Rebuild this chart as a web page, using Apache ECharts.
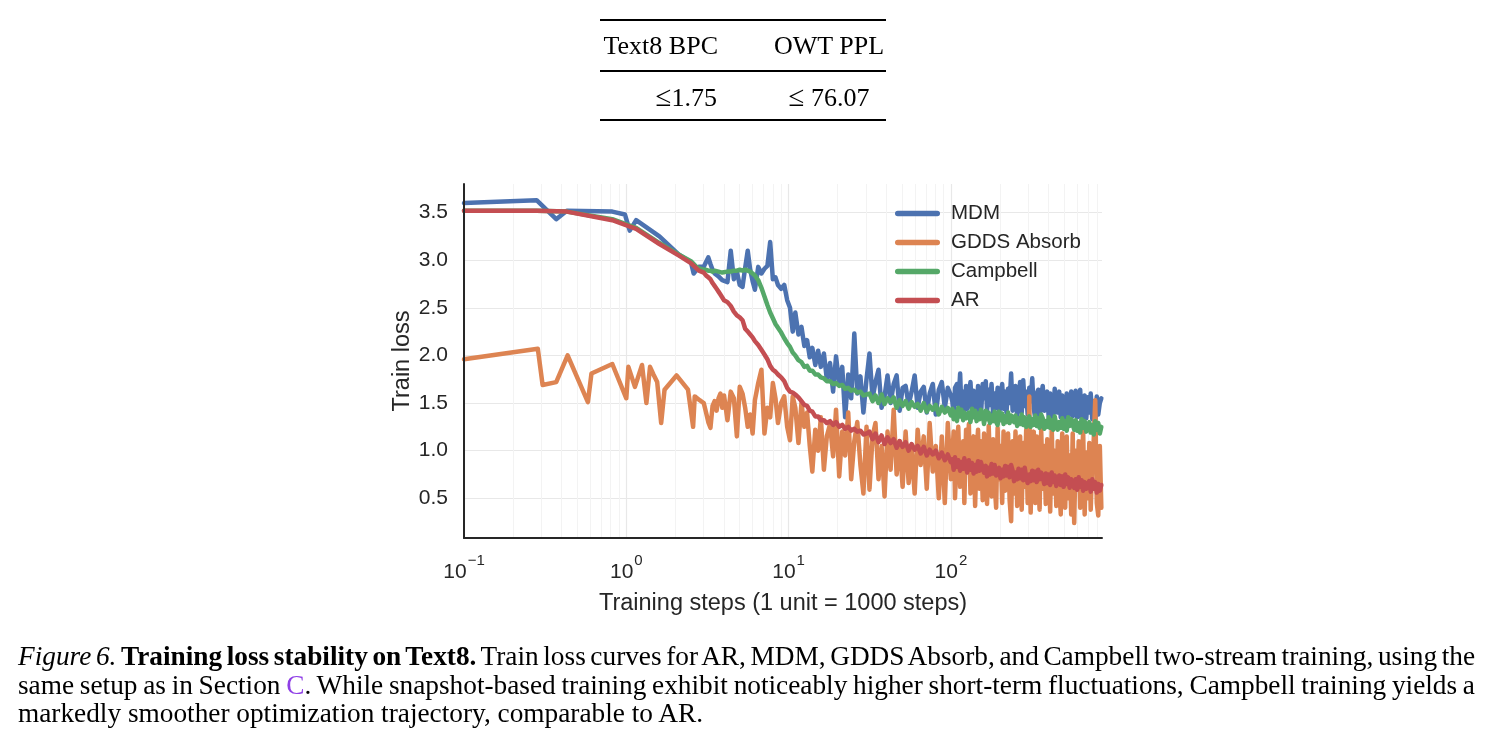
<!DOCTYPE html>
<html>
<head>
<meta charset="utf-8">
<script src="https://cdn.jsdelivr.net/npm/echarts@6/dist/echarts.min.js"></script>
<style>
  body { margin: 0; background: #fff; }
  #page { position: relative; width: 1491px; height: 745px; overflow: hidden; font-family: "Liberation Serif", "Times New Roman", serif; color: #000; }
  #chart { position: absolute; left: 0; top: 0; width: 1491px; height: 745px; }
  .rule { position: absolute; left: 600px; width: 286px; background: #000; }
  .cell { position: absolute; font-size: 26px; line-height: 26px; white-space: nowrap; }
  .le { font-size: 29px; }
  .cap { position: absolute; left: 18px; width: 1457px; font-size: 27.3px; line-height: 28.5px; white-space: nowrap; }
  .just { text-align: justify; text-align-last: justify; word-spacing: -4.5px; }
</style>
</head>
<body>
<div id="page">
  <div id="chart"></div>

  <!-- table above the figure -->
  <div class="rule" style="top:19px;height:2px"></div>
  <div class="cell" style="right:773px;top:33px">Text8 BPC</div>
  <div class="cell" style="left:772px;width:114px;text-align:center;top:33px">OWT PPL</div>
  <div class="rule" style="top:70px;height:1.5px"></div>
  <div class="cell" style="right:774px;top:83px"><span class="le">&le;</span>1.75</div>
  <div class="cell" style="left:772px;width:114px;text-align:center;top:83px"><span class="le">&le;</span> 76.07</div>
  <div class="rule" style="top:119px;height:2px"></div>

  <!-- caption -->
  <div class="cap just" style="top:642px"><i>Figure 6.</i> <b>Training loss stability on Text8.</b> Train loss curves for AR, MDM, GDDS Absorb, and Campbell two-stream training, using the</div>
  <div class="cap just" style="top:670.5px">same setup as in Section <span style="color:#8f3fe6">C</span>. While snapshot-based training exhibit noticeably higher short-term fluctuations, Campbell training yields a</div>
  <div class="cap" style="top:699px">markedly smoother optimization trajectory, comparable to AR.</div>
</div>

<script>
// sparse early part of each curve: [step (x1000), loss]
var mdmHead = [[0.1,3.60],[0.28,3.63],[0.37,3.43],[0.43,3.52],[0.82,3.51],[0.98,3.48],[1.05,3.31],[1.15,3.42],[1.6,3.25],[2.1,3.06],[2.5,2.98],[2.6,2.86],[2.8,2.93]];
var gddsHead = [[0.1,1.96],[0.285,2.07],[0.305,1.69],[0.37,1.72],[0.435,2.00],[0.58,1.51],[0.61,1.81],[0.82,1.91],[1.0,1.55],[1.03,1.88],[1.13,1.67],[1.25,1.90],[1.33,1.50],[1.40,1.88],[1.47,1.80],[1.55,1.72],[1.64,1.29],[1.72,1.64],[2.04,1.79],[2.40,1.64],[2.58,1.25],[2.64,1.57],[2.83,1.53]];
var campHead = [[0.1,3.52],[0.28,3.52],[0.43,3.51],[0.82,3.43],[1.15,3.34],[1.6,3.18],[2.1,3.06],[2.5,2.99],[2.7,2.93],[2.85,2.91]];
var arHead = [[0.1,3.52],[0.28,3.52],[0.43,3.51],[0.82,3.42],[1.15,3.33],[1.6,3.17],[2.1,3.05],[2.5,2.97],[2.8,2.89]];

// dense part: shared steps, one loss list per run
var tailSteps = [3,3.1,3.2,3.3,3.4,3.5,3.6,3.7,3.8,3.9,4,
  4.2,4.4,4.6,4.8,5,5.2,5.4,5.6,5.8,6,6.2,6.5,6.8,7.1,7.4,7.7,8,8.3,8.6,9,9.4,9.8,
  10.2,10.6,11,11.5,12,12.5,13,13.5,14,14.6,15.2,15.8,16.5,17.2,18,18.8,19.6,20.5,21.4,22.3,23.3,24.3,25.4,26.5,27.7,28.9,30.2,
  31.5,32.9,34.3,35.8,37.4,39,40.7,42.5,44.4,46.3,48.3,50.4,52.6,54.9,57.3,59.8,62.4,65.1,68,71,74,77.3,80.7,84.2,87.9,91.7,95.7,99.9,
  102,104,106,109,111,114,116,119,121,124,
  126,129,132,135,138,141,144,147,150,153,
  157,160,164,167,171,174,178,182,186,190,
  194,198,202,207,211,216,220,225,230,235,
  240,245,250,256,261,267,273,279,285,291,
  297,304,310,317,324,331,338,345,352,360,
  368,376,384,392,400,409,418,427,436,446,
  455,465,475,485,495,506,517,528,539,551,
  563,575,587,600,613,626,639,653,667,682,
  697,712,727,743,759,775,792,809,827,845];

var mdmTail = [2.93,2.98,3.03,2.96,2.90,2.86,2.88,2.83,2.82,2.79,2.81,
  2.77,3.10,2.80,2.88,2.74,2.72,2.92,3.10,2.90,2.78,2.69,2.93,2.86,2.91,2.94,3.19,2.80,2.82,2.74,2.70,2.74,2.58,
  2.50,2.25,2.45,2.22,2.30,2.10,2.16,1.98,2.08,1.90,2.05,1.88,2.02,1.75,1.92,1.62,1.99,1.70,1.88,1.35,1.80,1.55,2.23,1.60,1.78,1.40,1.75,
  2.02,1.55,1.72,1.85,1.45,1.57,1.79,1.50,1.70,1.79,1.42,1.66,1.68,1.48,1.62,1.79,1.45,1.62,1.67,1.40,1.60,1.70,1.38,1.64,1.72,1.45,1.66,1.58,
  1.52,1.38,1.66,1.70,1.48,1.81,1.45,1.62,1.40,1.68,
  1.44,1.58,1.72,1.40,1.63,1.50,1.35,1.68,1.47,1.36,
  1.70,1.55,1.73,1.42,1.64,1.48,1.70,1.38,1.60,1.45,
  1.66,1.35,1.57,1.70,1.44,1.62,1.40,1.65,1.50,1.81,
  1.42,1.60,1.68,1.36,1.55,1.72,1.40,1.74,1.47,1.62,
  1.38,1.66,1.52,1.76,1.44,1.34,1.60,1.64,1.30,1.58,
  1.68,1.42,1.56,1.62,1.36,1.60,1.45,1.33,1.65,1.50,
  1.40,1.62,1.35,1.58,1.48,1.33,1.60,1.44,1.38,1.62,
  1.36,1.55,1.63,1.35,1.52,1.64,1.32,1.47,1.58,1.34,
  1.56,1.40,1.60,1.33,1.52,1.30,1.57,1.38,1.50,1.55];
var gddsTail = [1.50,1.40,1.30,1.24,1.47,1.52,1.42,1.55,1.60,1.45,1.58,
  1.32,1.62,1.55,1.15,1.67,1.60,1.45,1.25,1.38,1.18,1.53,1.71,1.85,1.18,1.45,1.35,1.71,1.55,1.29,1.50,1.57,1.25,
  1.11,1.57,1.45,1.08,1.50,1.25,1.40,1.05,0.78,1.22,1.00,1.35,0.80,1.15,1.28,0.94,1.43,0.73,1.20,0.95,1.40,0.70,1.10,1.30,0.85,0.55,1.25,
  0.59,1.15,1.29,0.70,1.05,0.52,1.20,0.80,1.43,0.75,1.10,0.62,1.20,0.66,1.00,0.55,1.22,0.85,1.15,0.60,1.29,0.78,1.05,0.50,1.15,0.45,1.29,0.70,
  0.70,1.20,0.50,1.05,1.25,0.62,0.90,1.10,0.45,1.22,
  0.80,1.28,0.55,0.95,1.15,0.42,1.00,1.22,0.60,1.10,
  0.48,1.18,0.75,0.44,1.26,0.85,0.52,1.12,0.65,0.40,
  1.24,0.70,1.05,0.45,1.20,0.58,0.95,1.18,0.48,0.26,
  1.10,0.55,1.20,0.42,0.90,1.15,0.38,1.08,0.62,1.22,
  0.45,1.57,0.35,1.00,1.20,0.45,1.15,0.70,0.38,1.22,
  0.60,1.05,0.44,1.12,0.85,0.36,1.24,0.55,1.00,0.42,
  1.10,0.65,0.33,1.18,0.80,0.40,1.15,0.50,0.95,0.33,
  1.18,0.24,1.00,0.60,1.10,0.40,0.85,1.20,0.33,0.98,
  0.50,1.08,0.38,0.90,1.12,1.53,0.45,0.32,1.05,0.40];
var campTail = [2.90,2.90,2.89,2.89,2.88,2.89,2.88,2.88,2.88,2.87,2.88,
  2.88,2.88,2.89,2.89,2.90,2.89,2.90,2.89,2.88,2.86,2.84,2.79,2.71,2.62,2.53,2.45,2.39,2.33,2.29,2.24,2.18,2.13,
  2.09,2.03,2.00,1.95,1.93,1.88,1.89,1.84,1.84,1.80,1.80,1.77,1.76,1.73,1.73,1.70,1.71,1.68,1.69,1.65,1.66,1.63,1.64,1.61,1.62,1.58,1.59,
  1.60,1.52,1.58,1.50,1.59,1.49,1.55,1.51,1.56,1.45,1.53,1.47,1.52,1.44,1.51,1.46,1.49,1.42,1.50,1.41,1.47,1.43,1.48,1.38,1.46,1.40,1.45,1.37,
  1.44,1.33,1.41,1.31,1.45,1.36,1.43,1.32,1.40,1.34,
  1.32,1.40,1.30,1.44,1.35,1.42,1.31,1.39,1.33,1.43,
  1.38,1.28,1.42,1.33,1.40,1.29,1.37,1.31,1.41,1.30,
  1.27,1.41,1.32,1.39,1.28,1.36,1.30,1.40,1.29,1.37,
  1.39,1.30,1.37,1.26,1.34,1.28,1.38,1.27,1.35,1.25,
  1.29,1.36,1.25,1.33,1.27,1.37,1.26,1.34,1.24,1.38,
  1.34,1.23,1.31,1.25,1.35,1.24,1.32,1.22,1.36,1.27,
  1.22,1.30,1.24,1.34,1.23,1.31,1.21,1.35,1.26,1.33,
  1.28,1.22,1.32,1.21,1.29,1.19,1.33,1.24,1.31,1.20,
  1.20,1.30,1.19,1.27,1.17,1.31,1.22,1.29,1.18,1.25];
var arTail = [2.87,2.84,2.82,2.80,2.76,2.73,2.70,2.67,2.64,2.62,2.58,
  2.56,2.52,2.46,2.42,2.40,2.37,2.28,2.25,2.22,2.19,2.15,2.11,2.06,2.01,1.96,1.89,1.85,1.83,1.80,1.77,1.73,1.66,
  1.62,1.61,1.59,1.56,1.52,1.48,1.47,1.42,1.41,1.36,1.36,1.32,1.32,1.29,1.31,1.27,1.30,1.25,1.27,1.23,1.25,1.21,1.23,1.20,1.21,1.17,1.18,
  1.20,1.12,1.18,1.09,1.16,1.07,1.14,1.08,1.12,1.03,1.10,1.04,1.09,1.00,1.07,1.01,1.05,0.97,1.04,0.95,1.01,0.96,1.00,0.92,0.98,0.90,0.96,0.88,
  0.91,0.80,0.93,0.83,0.90,0.79,0.88,0.81,0.92,0.82,
  0.77,0.90,0.80,0.87,0.76,0.85,0.78,0.89,0.79,0.88,
  0.87,0.77,0.84,0.73,0.82,0.75,0.86,0.76,0.85,0.74,
  0.75,0.82,0.71,0.80,0.73,0.84,0.74,0.83,0.72,0.85,
  0.79,0.68,0.77,0.70,0.81,0.71,0.80,0.69,0.82,0.72,
  0.66,0.75,0.68,0.79,0.69,0.78,0.67,0.80,0.70,0.77,
  0.72,0.65,0.76,0.66,0.75,0.64,0.77,0.67,0.74,0.63,
  0.63,0.74,0.64,0.73,0.62,0.75,0.65,0.72,0.61,0.70,
  0.71,0.61,0.70,0.59,0.72,0.62,0.69,0.58,0.67,0.60,
  0.59,0.68,0.57,0.70,0.60,0.67,0.56,0.65,0.58,0.64];

// grid lines
var yTicks = [0.5, 1.0, 1.5, 2.0, 2.5, 3.0, 3.5];
var xMajor = [0.1, 1, 10, 100];
var xMinor = [0.2,0.3,0.4,0.5,0.6,0.7,0.8,0.9, 2,3,4,5,6,7,8,9, 20,30,40,50,60,70,80,90, 200,300,400,500,600,700,800];

var names = ['MDM', 'GDDS Absorb', 'Campbell', 'AR'];
var colors = ['#4C72B0', '#DD8452', '#55A868', '#C44E52'];

function build(head, tail) {
    return head.concat(tailSteps.map(function (s, i) { return [s, tail[i]]; }));
}

function lineSeries(i, data) {
    return {
        name: names[i],
        type: 'line',
        data: data,
        color: colors[i],
        showSymbol: false,
        symbol: 'none',
        sampling: null,
        lineStyle: { color: colors[i], width: 4.5, type: 'solid', cap: 'round', join: 'round' },
        emphasis: { disabled: true },
        z: 3
    };
}

var gridLines = [];
yTicks.forEach(function (v) { gridLines.push({ yAxis: v, lineStyle: { color: '#e8e8e8', width: 1.2, type: 'solid' } }); });
xMajor.forEach(function (v) { gridLines.push({ xAxis: v, lineStyle: { color: '#e8e8e8', width: 1.2, type: 'solid' } }); });
xMinor.forEach(function (v) { gridLines.push({ xAxis: v, lineStyle: { color: '#f3f3f3', width: 1, type: 'solid' } }); });

var txt = '#262626';
var chart = echarts.init(document.getElementById('chart'));

var option = {
    animation: false,
    textStyle: { fontFamily: 'Liberation Sans' },
    grid: { left: 464, top: 184, width: 638, height: 354 },
    legend: {
        data: names,
        orient: 'vertical',
        left: 890,
        top: 198,
        itemWidth: 45,
        itemHeight: 5.5,
        itemGap: 8,
        icon: 'path://M2.75,0H42.25A2.75,2.75,0,0,1,42.25,5.5H2.75A2.75,2.75,0,0,1,2.75,0Z',
        itemStyle: { borderWidth: 0 },
        lineStyle: { width: 0 },
        textStyle: { fontSize: 20.5, color: txt, padding: [0, 0, 0, 6] },
        selectedMode: false
    },
    xAxis: {
        type: 'log',
        logBase: 10,
        min: 0.1,
        max: 853,
        z: 6,
        axisLine: { show: true, onZero: false, lineStyle: { color: txt, width: 2 } },
        axisTick: { show: false },
        splitLine: { show: false },
        axisLabel: {
            margin: 22,
            color: txt,
            formatter: function (v) {
                var e = Math.log10(v);
                if (Math.abs(e - Math.round(e)) > 1e-6) return '';
                e = Math.round(e);
                return '{b|10}{s|' + (e < 0 ? '\u2212' + (-e) : e) + '}';
            },
            rich: {
                b: { fontSize: 21, lineHeight: 24, color: txt },
                s: { fontSize: 15, lineHeight: 14, padding: [0, 0, 22, 1], color: txt }
            }
        },
        name: 'Training steps (1 unit = 1000 steps)',
        nameLocation: 'middle',
        nameGap: 52,
        nameTextStyle: { fontSize: 23.5, color: txt }
    },
    yAxis: {
        type: 'value',
        min: 0.083,
        max: 3.8,
        minInterval: 0.5,
        maxInterval: 0.5,
        z: 6,
        axisLine: { show: true, lineStyle: { color: txt, width: 2 } },
        axisTick: { show: false },
        splitLine: { show: false },
        axisLabel: {
            fontSize: 21,
            margin: 16,
            color: txt,
            formatter: function (v) {
                if (Math.abs(v * 2 - Math.round(v * 2)) > 1e-6) return '';
                return v.toFixed(1);
            }
        },
        name: 'Train loss',
        nameLocation: 'middle',
        nameRotate: 90,
        nameGap: 48,
        nameTextStyle: { fontSize: 23.5, color: txt }
    },
    series: [
        {
            type: 'line',
            data: [],
            silent: true,
            z: 1,
            markLine: {
                z: 1,
                silent: true,
                symbol: ['none', 'none'],
                label: { show: false },
                lineStyle: { type: 'solid' },
                emphasis: { disabled: true },
                animation: false,
                data: gridLines
            }
        },
        lineSeries(0, build(mdmHead, mdmTail)),
        lineSeries(1, build(gddsHead, gddsTail)),
        lineSeries(2, build(campHead, campTail)),
        lineSeries(3, build(arHead, arTail))
    ]
};

chart.setOption(option);
</script>
</body>
</html>
